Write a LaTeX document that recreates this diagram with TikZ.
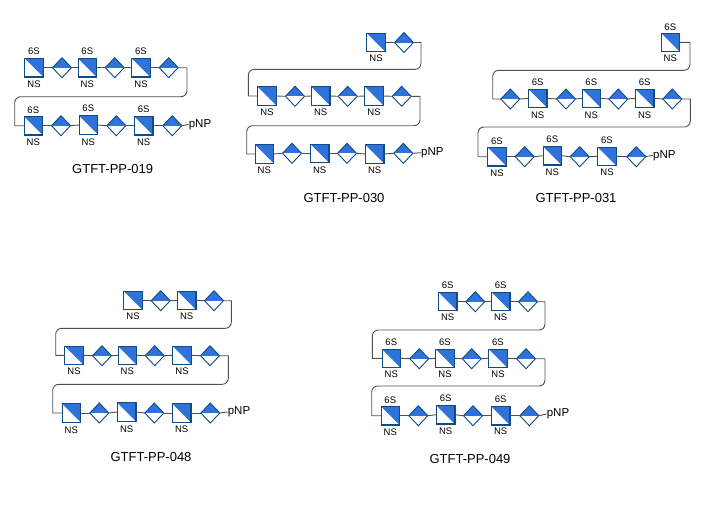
\documentclass[tikz,border=0pt]{standalone}
\usepackage{fontspec}
\setmainfont{Liberation Sans}
\usetikzlibrary{shapes.geometric}
\definecolor{gblue}{HTML}{2F72D9}
\definecolor{gedge}{HTML}{0F4C81}
\definecolor{glink}{HTML}{505050}
\tikzset{
  sq/.style={rectangle,draw=gedge,line width=1.1pt,fill=white,minimum size=18.5pt,inner sep=0pt,outer sep=0pt,
    path picture={\fill[gblue] (path picture bounding box.north west) -- (path picture bounding box.north east) -- (path picture bounding box.south east) -- cycle;}},
  dm/.style={diamond,draw=gedge,line width=0.9pt,fill=white,minimum width=19pt,minimum height=20pt,inner sep=0pt,outer sep=0pt,
    path picture={\fill[gblue] (path picture bounding box.north west) rectangle (path picture bounding box.east);}},
  link/.style={draw=glink,line width=0.9pt},
  lab/.style={font=\fontsize{9.5}{9.5}\selectfont,inner sep=0pt,text=black},
  pnp/.style={font=\fontsize{11.5}{12}\selectfont,inner sep=0pt,text=black},
  ttl/.style={font=\fontsize{13}{13}\selectfont,inner sep=0pt,text=black},
}
\newcommand{\gsqS}[5]{\node[sq] (#1) at (#2,#3) {};\node[lab] (#1-t) at (#2,#4) {6S};\node[lab] (#1-b) at (#2,#5) {NS};}
\newcommand{\gsqN}[4]{\node[sq] (#1) at (#2,#3) {};\node[lab] (#1-b) at (#2,#4) {NS};}
\newcommand{\gdm}[3]{\node[dm] (#1) at (#2,#3) {};}
% name, from, to, right x, bottom y, left x
\newcommand{\gturn}[6]{%
  \coordinate (#1-r) at (#4,#5);\coordinate (#1-l) at (#6,#5);
  \coordinate (#1-t) at (#2.east -| #1-r);\coordinate (#1-u) at (#3.west -| #1-l);
  \draw[link] (#2.east) -- (#1-t) [rounded corners=6pt] -- (#1-r) -- (#1-l) [sharp corners] -- (#1-u) -- (#3.west);}
\newcommand{\gchain}[1]{\foreach \ga/\gb in {#1}{\draw[link] (\ga.east) -- (\gb.west);}}
\begin{document}
\begin{tikzpicture}[x=1pt,y=-1pt]
\useasboundingbox (0,0) rectangle (720,504);
% Panel A
\gsqS{a1}{34}{67.7}{51.7}{84}
\gdm{a2}{62}{67.7}
\gsqS{a3}{87.3}{67.7}{51.7}{84}
\gdm{a4}{114.7}{67.7}
\gsqS{a5}{141}{67.7}{51.7}{84}
\gdm{a6}{168.7}{67.7}
\gsqS{a7}{33.3}{125.7}{110}{142.7}
\gdm{a8}{61}{125.7}
\gsqS{a9}{88.3}{125}{108.7}{142.7}
\gdm{a10}{116.3}{125.7}
\gsqS{a11}{143.7}{125.7}{109.3}{142.7}
\gdm{a12}{172.3}{125.7}
\node[pnp] (a13) at (200,124.5) {pNP};
\gchain{a1/a2,a2/a3,a3/a4,a4/a5,a5/a6,a7/a8,a8/a9,a9/a10,a10/a11,a11/a12,a12/a13}
\gturn{at}{a6}{a7}{187}{96.7}{14.7}
\node[ttl] (at1) at (112.7,169) {GTFT-PP-019};
% Panel B
\gsqN{b1}{376}{42.3}{58.7}
\gdm{b2}{404}{42.5}
\gsqN{b3}{267}{96}{112.3}
\gdm{b4}{295}{96.3}
\gsqN{b5}{320.7}{96}{112.3}
\gdm{b6}{347.7}{96.3}
\gsqN{b7}{374}{96}{112.3}
\gdm{b8}{401.7}{96.3}
\gsqN{b9}{264.3}{154}{170.7}
\gdm{b10}{292}{153.3}
\gsqN{b11}{319.7}{153.3}{170.3}
\gdm{b12}{347}{153.3}
\gsqN{b13}{374.7}{154}{170.3}
\gdm{b14}{403.3}{153.3}
\node[pnp] (b15) at (432.3,152.7) {pNP};
\gchain{b1/b2,b3/b4,b4/b5,b5/b6,b6/b7,b7/b8,b9/b10,b10/b11,b11/b12,b12/b13,b13/b14,b14/b15}
\gturn{bt}{b2}{b3}{421}{69.3}{248.3}
\gturn{bu}{b8}{b9}{420}{125.7}{246.7}
\node[ttl] (bt1) at (344,198) {GTFT-PP-030};
% Panel C
\gsqS{c1}{670.3}{42.3}{27}{58.7}
\gdm{c2}{510.3}{99}
\gsqS{c3}{537.7}{98.3}{82.7}{115}
\gdm{c4}{566}{99}
\gsqS{c5}{591.3}{98.3}{82.7}{115}
\gdm{c6}{618.3}{99}
\gsqS{c7}{644.7}{98.3}{82.7}{115}
\gdm{c8}{672.3}{99}
\gsqS{c9}{497}{156.7}{141}{173.3}
\gdm{c10}{524.7}{156.7}
\gsqS{c11}{552.3}{155.7}{139.7}{172.7}
\gdm{c12}{579.7}{156.7}
\gsqS{c13}{607}{156.3}{140}{172.7}
\gdm{c14}{636.3}{156.7}
\node[pnp] (c15) at (664.3,155.3) {pNP};
\gchain{c2/c3,c3/c4,c4/c5,c5/c6,c6/c7,c7/c8,c9/c10,c10/c11,c11/c12,c12/c13,c13/c14,c14/c15}
\gturn{ct}{c1}{c2}{690}{70.3}{492.7}
\gturn{cu}{c8}{c9}{690.3}{127}{478}
\node[ttl] (ct1) at (576,198) {GTFT-PP-031};
% Panel D
\gsqN{d1}{133}{300.3}{316.3}
\gdm{d2}{160.7}{300.7}
\gsqN{d3}{186.7}{300.3}{316.3}
\gdm{d4}{214}{300.7}
\gsqN{d5}{74}{355.3}{371}
\gdm{d6}{102}{355.7}
\gsqN{d7}{127.3}{355.3}{371}
\gdm{d8}{154.7}{355.7}
\gsqN{d9}{182}{355.3}{371}
\gdm{d10}{210}{355.7}
\gsqN{d11}{71.3}{413}{430}
\gdm{d12}{99.3}{413}
\gsqN{d13}{126.7}{412}{429.3}
\gdm{d14}{154.3}{413}
\gsqN{d15}{181.7}{413}{429.3}
\gdm{d16}{210.3}{413}
\node[pnp] (d17) at (239,412) {pNP};
\gchain{d1/d2,d2/d3,d3/d4,d5/d6,d6/d7,d7/d8,d8/d9,d9/d10,d11/d12,d12/d13,d13/d14,d14/d15,d15/d16,d16/d17}
\gturn{dt}{d4}{d5}{231.3}{328.3}{55.7}
\gturn{du}{d10}{d11}{228.3}{384.3}{52.7}
\node[ttl] (dt1) at (151,457) {GTFT-PP-048};
% Panel E
\gsqS{e1}{447.7}{301.3}{285.3}{317.3}
\gdm{e2}{475.3}{301.7}
\gsqS{e3}{500.7}{301.3}{285.3}{317.3}
\gdm{e4}{528}{301.7}
\gsqS{e5}{391.3}{358.3}{342.3}{374.3}
\gdm{e6}{419.3}{358.7}
\gsqS{e7}{445}{358.3}{342.3}{374.3}
\gdm{e8}{471.7}{358.7}
\gsqS{e9}{498}{358.3}{342.3}{374.3}
\gdm{e10}{526}{358.7}
\gsqS{e11}{390.3}{415.7}{400}{432.3}
\gdm{e12}{418.3}{415.7}
\gsqS{e13}{445.7}{414.7}{398.3}{431.7}
\gdm{e14}{473}{415.7}
\gsqS{e15}{500.7}{415.7}{399}{431.7}
\gdm{e16}{529.3}{415.7}
\node[pnp] (e17) at (558,414) {pNP};
\gchain{e1/e2,e2/e3,e3/e4,e5/e6,e6/e7,e7/e8,e8/e9,e9/e10,e11/e12,e12/e13,e13/e14,e14/e15,e15/e16,e16/e17}
\gturn{et}{e4}{e5}{545}{330}{372.3}
\gturn{eu}{e10}{e11}{545}{386}{371.7}
\node[ttl] (et1) at (470,459.3) {GTFT-PP-049};
\end{tikzpicture}
\end{document}
